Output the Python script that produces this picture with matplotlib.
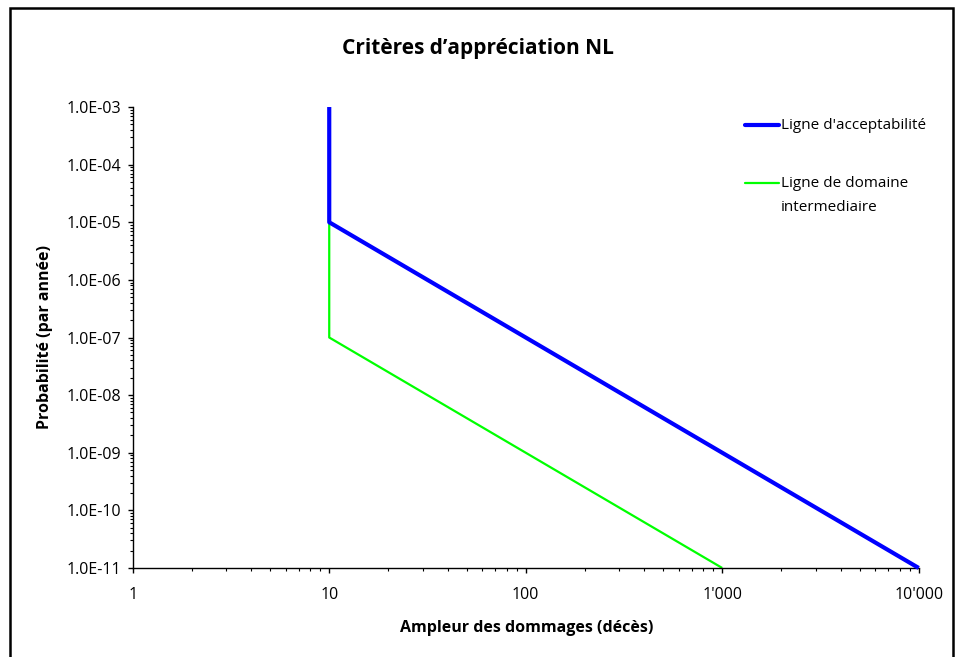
import matplotlib
matplotlib.use("Agg")
import matplotlib.pyplot as plt
from matplotlib.patches import Rectangle
from matplotlib.ticker import FixedLocator, FixedFormatter, LogLocator, NullFormatter

plt.rcParams["font.family"] = ["Open Sans", "DejaVu Sans"]

# data
title = "Critères d\u2019appréciation NL"
x_label = "Ampleur des dommages (décès)"
y_label = "Probabilité (par année)"

accept_x = [10, 10, 10000]
accept_y = [1e-3, 1e-5, 1e-11]
inter_x = [10, 10, 1000]
inter_y = [1e-5, 1e-7, 1e-11]
legend_labels = ["Ligne d'acceptabilité", "Ligne de domaine\nintermediaire"]

x_ticks = [1, 10, 100, 1000, 10000]
x_ticklabels = ["1", "10", "100", "1'000", "10'000"]
y_ticks = [1e-11, 1e-10, 1e-9, 1e-8, 1e-7, 1e-6, 1e-5, 1e-4, 1e-3]
y_ticklabels = ["1.0E-11", "1.0E-10", "1.0E-09", "1.0E-08", "1.0E-07",
                "1.0E-06", "1.0E-05", "1.0E-04", "1.0E-03"]

fig = plt.figure(figsize=(9.55, 6.57), dpi=100)
ax = fig.add_axes([0.139, 0.1355, 0.823, 0.7016])

ax.plot(accept_x, accept_y, color="#0000ff", lw=3.0, clip_on=False,
        solid_capstyle="butt", zorder=3)
ax.plot(inter_x, inter_y, color="#00ff00", lw=1.6, clip_on=False,
        solid_capstyle="butt", zorder=2)

ax.set_xscale("log")
ax.set_yscale("log")
ax.set_xlim(1, 10000)
ax.set_ylim(1e-11, 1e-3)

ax.xaxis.set_major_locator(FixedLocator(x_ticks))
ax.xaxis.set_major_formatter(FixedFormatter(x_ticklabels))
ax.yaxis.set_major_locator(FixedLocator(y_ticks))
ax.yaxis.set_major_formatter(FixedFormatter(y_ticklabels))
ax.xaxis.set_minor_locator(LogLocator(base=10, subs=range(2, 10)))
ax.yaxis.set_minor_locator(LogLocator(base=10, subs=range(2, 10), numticks=20))
ax.xaxis.set_minor_formatter(NullFormatter())
ax.yaxis.set_minor_formatter(NullFormatter())

for s in ["top", "right"]:
    ax.spines[s].set_visible(False)
for s in ["left", "bottom"]:
    ax.spines[s].set_linewidth(1.0)
    ax.spines[s].set_color("black")

ax.tick_params(which="major", direction="out", length=3.5, width=1,
               labelsize=11.5, colors="black")
ax.tick_params(which="minor", direction="out", length=2.5, width=0.8)
ax.tick_params(axis="y", which="major", pad=5)
ax.tick_params(axis="x", which="major", pad=10)

fig.text(0.5, 0.926, title, ha="center", va="center",
         fontsize=15, fontweight="bold")
fig.text(0.551, 0.044, x_label, ha="center", va="center",
         fontsize=11.5, fontweight="bold")
fig.text(0.047, 0.487, y_label, ha="center", va="center",
         rotation=90, fontsize=11.5, fontweight="bold")

# legend drawn by hand to keep the handles on the first text line
leg_x0, leg_x1, leg_tx = 0.779, 0.822, 0.825
line_step = 0.052
for color, lw, y, label in [("#0000ff", 3.0, 0.961, legend_labels[0]),
                            ("#00ff00", 1.6, 0.835, legend_labels[1])]:
    ax.plot([leg_x0, leg_x1], [y, y], color=color, lw=lw,
            transform=ax.transAxes, clip_on=False, solid_capstyle="round")
    for i, part in enumerate(label.split("\n")):
        ax.text(leg_tx, y - i * line_step, part, transform=ax.transAxes,
                ha="left", va="center", fontsize=11)

# outer frame
fig.patches.append(Rectangle((10 / 955, -0.05), 943 / 955, 1.05 - 8 / 657,
                             transform=fig.transFigure, fill=False,
                             lw=1.8, edgecolor="black"))

fig.savefig("out.png", dpi=100, facecolor="white")
